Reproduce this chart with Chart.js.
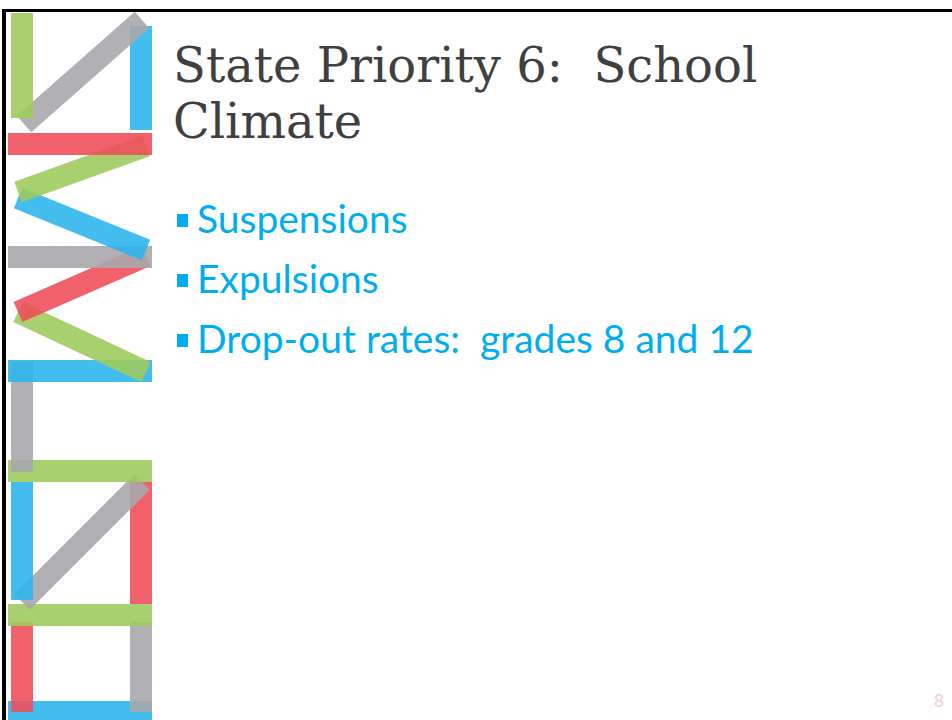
<!DOCTYPE html>
<html>
<head>
<meta charset="utf-8">
<script src="https://cdn.jsdelivr.net/npm/chart.js@4.4.1/dist/chart.umd.min.js"></script>
<style>
  html, body { margin: 0; padding: 0; background: #fff; }
  body { width: 952px; height: 720px; position: relative; overflow: hidden; }
  #frame { position: absolute; left: 2px; top: 9px; right: 0; bottom: -10px;
           border-top: 3px solid #000; border-left: 4px solid #000; z-index: 2; pointer-events: none; }
  #logo { position: absolute; left: 0; top: 0; z-index: 1; }
  #title { position: absolute; left: 173px; top: 37px; font-family: "DejaVu Serif", serif;
           font-size: 48px; line-height: 56px; color: #404040; }
  #bullets { position: absolute; left: 177px; top: 194px; margin: 0; padding: 0; list-style: none;
             font-family: Lato, "Open Sans", sans-serif; font-size: 39px; color: #00AEEF; }
  #bullets li { height: 60px; line-height: 48px; white-space: pre; }
  #bullets li::before { content: ""; display: inline-block; width: 11px; height: 13px;
                        background: #00AEEF; margin-right: 9px; vertical-align: 6px; }
  #pagenum { position: absolute; left: 934px; top: 690px; font-family: Lato, sans-serif;
             font-size: 17px; color: #F9C9D2; }
</style>
</head>
<body>
<canvas id="logo" width="160" height="720"></canvas>
<div id="frame"></div>
<div id="title">State Priority 6:&nbsp; School<br>Climate</div>
<ul id="bullets">
  <li>Suspensions</li>
  <li>Expulsions</li>
  <li>Drop-out rates:  grades 8 and 12</li>
</ul>
<div id="pagenum">8</div>
<script>
// ribbon pieces of the logo, in logo units (x 0..160, y 0..720 top-down)
const ribbonColors = ["green", "gray", "blue", "red", "green", "blue", "gray", "red", "green", "blue",
                      "gray", "green", "blue", "gray", "red", "green", "red", "gray", "blue"];
const ribbonStart = [[22, 13], [24, 124], [141, 26], [8, 144], [146, 146], [18, 198], [8, 257],
                     [146, 256], [18, 312], [8, 371], [22, 362], [8, 471], [22, 482], [22, 602],
                     [141, 482], [8, 615], [22, 622], [141, 622], [8, 712]];
const ribbonEnd = [[22, 118], [142, 20], [141, 130], [152, 144], [18, 192], [146, 250], [152, 257],
                   [18, 312], [146, 372], [152, 371], [22, 472], [152, 471], [22, 600], [142, 482],
                   [141, 604], [152, 615], [22, 712], [141, 712], [152, 712]];

const palette = {
    green: "rgba(158,203,95,0.9)",
    gray: "rgba(168,169,173,0.9)",
    blue: "rgba(45,182,235,0.9)",
    red: "rgba(240,80,92,0.9)"
};

const datasets = ribbonColors.map((c, i) => ({
    data: [
        { x: ribbonStart[i][0], y: ribbonStart[i][1] },
        { x: ribbonEnd[i][0], y: ribbonEnd[i][1] }
    ],
    showLine: true,
    borderColor: palette[c],
    borderWidth: 22,
    borderCapStyle: "butt",
    pointRadius: 0,
    fill: false
}));

new Chart(document.getElementById("logo").getContext("2d"), {
    type: "scatter",
    data: { datasets: datasets },
    options: {
        responsive: false,
        animation: false,
        devicePixelRatio: 1,
        layout: { padding: 0 },
        plugins: { legend: { display: false }, tooltip: { enabled: false } },
        scales: {
            x: { type: "linear", min: 0, max: 160, display: false },
            y: { type: "linear", min: 0, max: 720, reverse: true, display: false }
        }
    }
});
</script>
</body>
</html>
